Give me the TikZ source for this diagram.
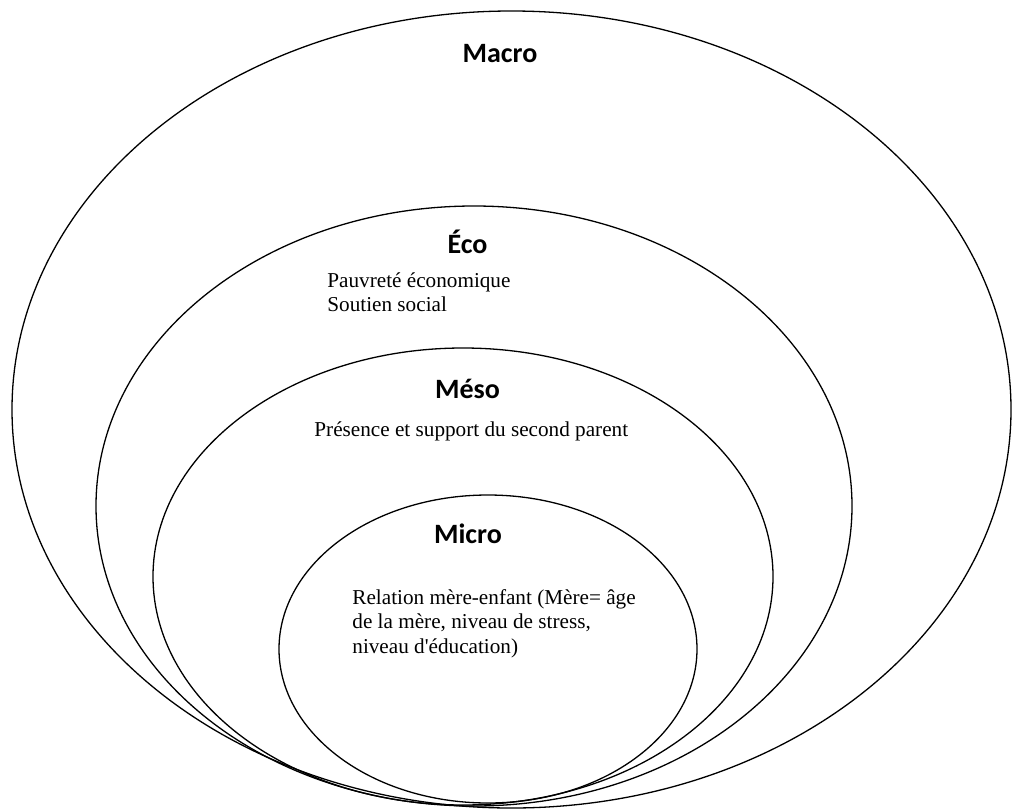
\documentclass[tikz,border=0pt]{standalone}
\usepackage{fontspec}
\setmainfont{Liberation Serif}
\newfontfamily\titrefont{Carlito}
\usetikzlibrary{shapes,positioning}
\tikzstyle{niveau} = [draw, ellipse, line width=0.65pt, inner sep=0pt]
\tikzstyle{titre} = [font=\titrefont\bfseries\fontsize{14}{16}\selectfont, inner sep=0pt, anchor=base]
\tikzstyle{texte} = [font=\fontsize{10.6}{12.4}\selectfont, inner sep=0pt, align=left]

\begin{document}
\begin{tikzpicture}[x=0.5pt,y=-0.5pt]
	\useasboundingbox (0,0) rectangle (1012,809);
	% les quatre niveaux
	\node[niveau, minimum width=499.5pt, minimum height=398.5pt] (macro) at (511.5,409.5) {};
	\node[niveau, minimum width=378pt, minimum height=300pt] (eco) at (474,506) {};
	\node[niveau, minimum width=310pt, minimum height=228.5pt] (meso) at (463,576.5) {};
	\node[niveau, minimum width=209pt, minimum height=154pt] (micro) at (488,649) {};
	% titres
	\node[titre] (tmacro) at (500,62) {Macro};
	\node[titre] (teco) at (467.5,253) {Éco};
	\node[titre] (tmeso) at (467.5,398) {Méso};
	\node[titre] (tmicro) at (468,543) {Micro};
	% facteurs
	\node[texte, anchor=north west] (feco) at (327,272) {Pauvreté économique\\Soutien social};
	\node[texte, anchor=base west] (fmeso) at (314,436) {Présence et support du second parent};
	\node[texte, anchor=north west, font=\fontsize{10.6}{12.25}\selectfont] (fmicro) at (352,589) {Relation mère-enfant (Mère= âge\\de la mère, niveau de stress,\\niveau d\textquotesingle éducation)};
\end{tikzpicture}
\end{document}
